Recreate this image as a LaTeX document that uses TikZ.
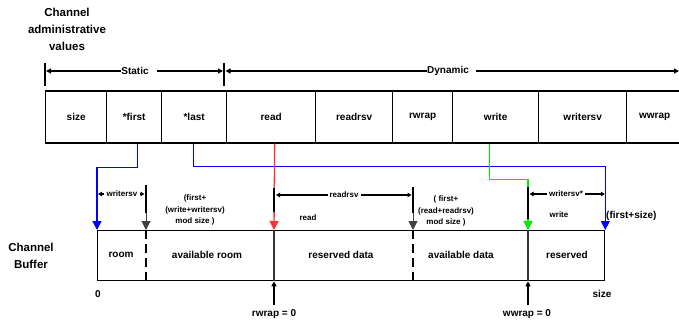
\documentclass[tikz,border=0pt]{standalone}
\usepackage{fontspec}
\setmainfont{Liberation Sans}
\usetikzlibrary{arrows.meta,calc}
\definecolor{myred}{RGB}{255,51,51}
\definecolor{mygreen}{RGB}{0,235,0}
\definecolor{myblue}{RGB}{0,0,255}
\begin{document}
\begin{tikzpicture}[x=1pt,y=-1pt,
  every node/.style={font=\bfseries, inner sep=0pt},
  cellbox/.style={draw, line width=1.3pt, minimum height=52pt, anchor=west, font=\bfseries\fontsize{10}{12}\selectfont},
  bigtxt/.style={font=\bfseries\fontsize{11.5}{17}\selectfont, align=center},
  midtxt/.style={font=\bfseries\fontsize{10}{12}\selectfont},
  smalltxt/.style={font=\bfseries\fontsize{8}{11.5}\selectfont, align=center},
  tip/.style={-{Triangle[length=5pt,width=5pt]}},
  stip/.style={-{Triangle[length=4pt,width=4.5pt]}},
  bigtip/.style={-{Triangle[length=9pt,width=9pt]}},
  bar/.style={line width=2.4pt},
  divdash/.style={line width=2.6pt, dash pattern=on 9pt off 5pt},
  conn/.style={line width=1.3pt},
]
\useasboundingbox (0,0) rectangle (679,322);

% title
\node[bigtxt] (title) at (67,29) {Channel\\administrative\\values};
\node[bigtxt] (cbuf) at (31,255.5) {Channel\\Buffer};

% static / dynamic
\coordinate (t1) at (45,71);
\coordinate (t2) at (224,71);
\coordinate (t3) at (679,71);
\draw[line width=1.6pt] ($(t1)+(0,-8)$) -- ($(t1)+(0,15)$);
\draw[line width=1.6pt] ($(t2)+(0,-8)$) -- ($(t2)+(0,15)$);
\node[midtxt] (st) at (135,71) {Static};
\node[midtxt] (dy) at (448,71) {Dynamic};
\draw[conn,tip] (st.west) -- ($(t1)+(1,0)$);
\draw[conn,tip] ([xshift=8pt]st.east) -- ($(t2)+(-1,0)$);
\draw[conn,tip] (dy.west) -- ($(t2)+(1.5,0)$);
\draw[conn,tip] ([xshift=7pt]dy.east) -- (t3);

% cells
\node[cellbox, minimum width=61pt] (csize) at (45,117) {size};
\node[cellbox, minimum width=55pt] (cfirst) at (106,117) {*first};
\node[cellbox, minimum width=65pt] (clast) at (161,117) {*last};
\node[cellbox, minimum width=89pt] (cread) at (226,117) {read};
\node[cellbox, minimum width=77pt] (creadrsv) at (315,117) {readrsv};
\node[cellbox, minimum width=60pt] (crwrap) at (392,117) {rwrap};
\node[cellbox, minimum width=86pt] (cwrite) at (452,117) {write};
\node[cellbox, minimum width=88pt] (cwritersv) at (538,117) {writersv};
\node[cellbox, minimum width=56pt] (cwwrap) at (626,117) {wwrap};

% buffer
\node[draw, line width=1.3pt, minimum width=507pt, minimum height=50pt, anchor=north west] (buf) at (97,230) {};
\coordinate (d1) at (146,0);
\coordinate (d3) at (274,0);
\coordinate (d5) at (413,0);
\coordinate (d6) at (528,0);
\draw[divdash] (d1 |- buf.north) -- (d1 |- buf.south);
\draw[divdash] (d5 |- buf.north) -- (d5 |- buf.south);
\draw[line width=1.2pt, black!80] (d3 |- buf.north) -- (d3 |- buf.south);
\draw[line width=1.2pt, black!80] (d6 |- buf.north) -- (d6 |- buf.south);

\node[midtxt] (troom) at (121,255) {room};
\node[midtxt] (tavroom) at (207,255) {available room};
\node[midtxt] (tresdata) at (341,255) {reserved data};
\node[midtxt] (tavdata) at (461,255) {available data};
\node[midtxt] (treserved) at (567,255) {reserved};

% colored connectors
\draw[conn, myblue, bigtip] ([xshift=3.5pt]cfirst.south) -- ++(0,24) -| (buf.north west);
\draw[conn, myblue, bigtip] ([xshift=-0.5pt]clast.south) -- ++(0,23) -| (buf.north east);
\draw[conn, myred, bigtip] ([xshift=3.5pt]cread.south) -- (d3 |- buf.north);
\draw[conn, mygreen, bigtip] ([xshift=-6pt]cwrite.south) -- ++(0,36) -| (d6 |- buf.north);

% black marker arrows
\draw[line width=1pt, black!75, bigtip] ($(d1 |- buf.north)+(0,-45)$) -- (d1 |- buf.north);
\draw[line width=1pt, black!75, bigtip] ($(d5 |- buf.north)+(0,-43)$) -- (d5 |- buf.north);
\draw[bar] ($(d1 |- buf.north)+(0,-45)$) -- ++(0,28);
\draw[bar] ($(d3 |- buf.north)+(0,-42)$) -- ++(0,24);
\draw[bar] ($(d5 |- buf.north)+(0,-43)$) -- ++(0,26);
\draw[bar] ($(d6 |- buf.north)+(0,-43)$) -- ++(0,32);

% small dimension labels
\node[smalltxt] (wsv) at (122,194) {writersv};
\draw[conn, stip] ([xshift=-2pt]wsv.west) -- ($(buf.north west |- wsv)+(1,0)$);
\draw[conn, stip] ([xshift=2pt]wsv.east) -- ($(d1 |- wsv)+(-1.5,0)$);
\node[smalltxt] (rrsv) at (344,195) {readrsv};
\draw[conn, stip] ([xshift=-1pt]rrsv.west) -- ($(d3 |- rrsv)+(2,0)$);
\draw[conn, stip] ([xshift=2pt]rrsv.east) -- ($(d5 |- rrsv)+(-1.5,0)$);
\node[smalltxt] (wsv2) at (566,194) {writersv*};
\draw[conn, stip] ([xshift=-2pt]wsv2.west) -- ($(d6 |- wsv2)+(1.5,0)$);
\draw[conn, stip] ([xshift=2pt]wsv2.east) -- ($(buf.north east |- wsv2)+(-0.5,0)$);

\node[smalltxt] (f1) at (195,210) {(first+\\(write+writersv)\\mod size )};
\node[smalltxt] (f2) at (446,211) {( first+\\(read+readrsv)\\mod size )};
\node[smalltxt] (lread) at (308,218) {read};
\node[smalltxt] (lwrite) at (559,215) {write};
\node[midtxt, anchor=west] (lfs) at (606,216) {(first+size)};
\node[midtxt] (lzero) at (98,294) {0};
\node[midtxt] (lsize) at (602,294) {size};

% wrap arrows
\node[midtxt] (rwl) at (274,314) {rwrap = 0};
\node[midtxt] (wwl) at (527,314) {wwrap = 0};
\draw[conn, tip] ($(d3 |- rwl)+(0,-9)$) -- (d3 |- buf.south);
\draw[conn, tip] ($(d6 |- wwl)+(0,-9)$) -- (d6 |- buf.south);
\end{tikzpicture}
\end{document}
